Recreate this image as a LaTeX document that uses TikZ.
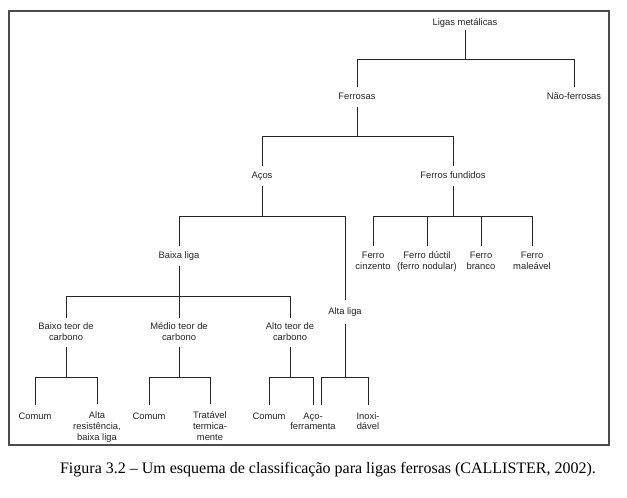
\documentclass[tikz,border=0pt]{standalone}
\usepackage{fontspec}
\setmainfont{Liberation Serif}
\setsansfont{Liberation Sans}
\newcommand\mystrut{\rule[-2pt]{0pt}{9pt}}
\begin{document}
\begin{tikzpicture}[x=1pt,y=-1pt,
  lbl/.style={font=\sffamily\fontsize{9.4}{10.8}\selectfont, text=black!85,
    align=center, inner xsep=0pt, inner ysep=5.5pt},
  leaf/.style={lbl, inner ysep=7.25pt},
  conn/.style={draw=black!85, line width=0.9pt},
  frame/.style={draw=black!70, line width=1.3pt},
  capt/.style={font=\rmfamily\fontsize{16}{19}\selectfont, text=black, inner sep=0pt, anchor=base}]
\useasboundingbox (0,0) rectangle (627,498);
\fill[white] (0,0) rectangle (627,498);
\draw[frame] (9,11) rectangle (609,445);
% nodes
\node[lbl, inner ysep=2.5pt] (lm) at (465,23) {\mystrut Ligas metálicas};
\node[lbl] (fe) at (357,97) {\mystrut Ferrosas};
\node[lbl] (nf) at (574,97) {\mystrut Não-ferrosas};
\node[lbl] (ac) at (262,176) {\mystrut Aços};
\node[lbl] (ff) at (453,176) {\mystrut Ferros fundidos};
\node[lbl] (f1) at (373,261.5) {\mystrut Ferro\\\mystrut cinzento};
\node[lbl] (f2) at (427,261.5) {\mystrut Ferro dúctil\\\mystrut (ferro nodular)};
\node[lbl] (f3) at (481,261.5) {\mystrut Ferro\\\mystrut branco};
\node[lbl] (f4) at (532,261.5) {\mystrut Ferro\\\mystrut maleável};
\node[lbl] (bl) at (179,256) {\mystrut Baixa liga};
\node[lbl, inner ysep=7.5pt] (al) at (345,312) {\mystrut Alta liga};
\node[lbl, inner ysep=4pt] (bt) at (66,332.5) {\mystrut Baixo teor de\\\mystrut carbono};
\node[lbl, inner ysep=4pt] (mt) at (179,332.5) {\mystrut Médio teor de\\\mystrut carbono};
\node[lbl, inner ysep=4pt] (at) at (290,332.5) {\mystrut Alto teor de\\\mystrut carbono};
\node[leaf] (c1) at (35,417) {\mystrut Comum};
\node[leaf] (c2) at (97,427) {\mystrut Alta\\\mystrut resistência,\\\mystrut baixa liga};
\node[leaf] (c3) at (149,417) {\mystrut Comum};
\node[leaf] (c4) at (210,427) {\mystrut Tratável\\\mystrut termica-\\\mystrut mente};
\node[leaf] (c5) at (269,417) {\mystrut Comum};
\node[leaf] (c6) at (313,422) {\mystrut Aço-\\\mystrut ferramenta};
\node[leaf] (c7) at (368,422) {\mystrut Inoxi-\\\mystrut dável};
% bus levels
\coordinate (b0) at (0,59);
\coordinate (b1) at (0,136);
\coordinate (b2) at (0,216);
\coordinate (b4) at (0,296);
\coordinate (b5) at (0,377);
% connectors
\draw[conn] (lm.south) -- (lm.south |- b0);
\draw[conn] (fe.north) |- (nf.north |- b0) -- (nf.north);
\draw[conn] (fe.south) -- (fe.south |- b1);
\draw[conn] (ac.north) |- (ff.north |- b1) -- (ff.north);
\draw[conn] (ac.south) -- (ac.south |- b2);
\draw[conn] (bl.north) |- (al.north |- b2) -- (al.north);
\draw[conn] (ff.south) -- (ff.south |- b2);
\draw[conn] (f1.north) |- (f4.north |- b2) -- (f4.north);
\draw[conn] (f2.north) -- (f2.north |- b2);
\draw[conn] (f3.north) -- (f3.north |- b2);
\draw[conn] (bl.south) -- (bl.south |- b4);
\draw[conn] (bt.north) |- (at.north |- b4) -- (at.north);
\draw[conn] (mt.north) -- (mt.north |- b4);
\draw[conn] (bt.south) -- (bt.south |- b5);
\draw[conn] (c1.north) |- (c2.north |- b5) -- (c2.north);
\draw[conn] (mt.south) -- (mt.south |- b5);
\draw[conn] (c3.north) |- (c4.north |- b5) -- (c4.north);
\draw[conn] (at.south) -- (at.south |- b5);
\draw[conn] (c5.north) |- (c6.north |- b5) -- (c6.north);
\draw[conn] (al.south) -- (al.south |- b5);
\draw[conn] ([xshift=8pt]c6.north) |- (c7.north |- b5) -- (c7.north);
% caption
\node[capt] (cap) at (328,473) {Figura 3.2 – Um esquema de classificação para ligas ferrosas (CALLISTER, 2002).};
\end{tikzpicture}
\end{document}
